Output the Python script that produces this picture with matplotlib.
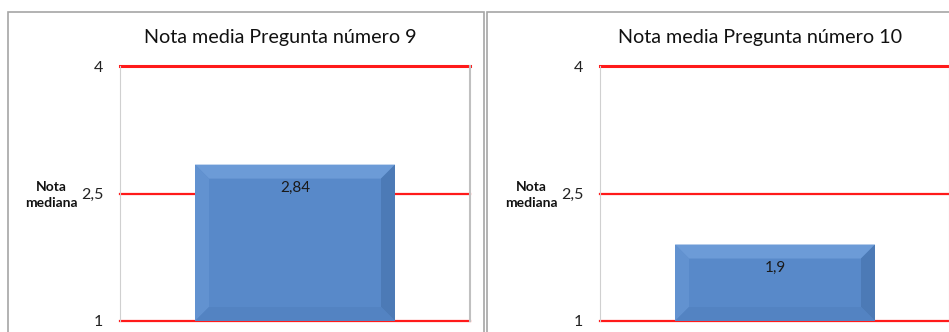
import matplotlib
matplotlib.use("Agg")
import matplotlib.pyplot as plt
from matplotlib.patches import Polygon, Rectangle

# data
titles = ["Nota media Pregunta número 9", "Nota media Pregunta número 10"]
values = [2.84, 1.9]
value_labels = ["2,84", "1,9"]
yticks = [1, 2.5, 4]
ytick_labels = ["1", "2,5", "4"]
ylabel = "Nota\nmediana"

W, H = 949, 332
FONT = ["Lato", "DejaVu Sans"]
BLUE = "#5889C9"

fig = plt.figure(figsize=(W / 100, H / 100), dpi=100)

# panel frames (pixel coords -> figure fractions)
for x0, x1 in [(8, 484), (487, 960)]:
    fig.patches.append(Rectangle((x0 / W, -0.1), (x1 - x0) / W, (H - 12) / H + 0.1,
                                 transform=fig.transFigure, fill=False,
                                 edgecolor="#a6a6a6", lw=1.2))


def bevel(ax, bar, px=14):
    # bevel faces built from the bar rectangle, sized in pixels
    x0, y0 = ax.transData.transform((bar.get_x(), bar.get_y()))
    x1, y1 = ax.transData.transform((bar.get_x() + bar.get_width(), bar.get_y() + bar.get_height()))
    b = min(px, (y1 - y0) / 2)
    inv = ax.transData.inverted()
    faces = [
        ([(x0, y1), (x1, y1), (x1 - b, y1 - b), (x0 + b, y1 - b)], "#6C9BD7"),  # top
        ([(x0, y0), (x0, y1), (x0 + b, y1 - b), (x0 + b, y0 + b)], "#6292D0"),  # left
        ([(x1, y0), (x1, y1), (x1 - b, y1 - b), (x1 - b, y0 + b)], "#4C7AB6"),  # right
        ([(x0, y0), (x1, y0), (x1 - b, y0 + b), (x0 + b, y0 + b)], "#5383C2"),  # bottom
    ]
    for pts, c in faces:
        ax.add_patch(Polygon(inv.transform(pts), closed=True, facecolor=c,
                             edgecolor="none", zorder=3))


for i, (title, v, lab) in enumerate(zip(titles, values, value_labels)):
    off = 480 * i
    ax = fig.add_axes([(120 + off) / W, (H - 321) / H, 350 / W, 255 / H])
    ax.set_xlim(-0.875, 0.875)
    ax.set_ylim(1, 4)
    for s in ["top", "bottom"]:
        ax.spines[s].set_visible(False)
    ax.spines["left"].set_color("#d0d0d0")
    ax.spines["right"].set_color("#c0c0c0")
    ax.spines["right"].set_linewidth(1.5)
    for y in yticks:
        ax.axhline(y, color="#ff1a1a", lw=1.6 if y != 4 else 2.2, zorder=1, clip_on=False)
    bars = ax.bar([0], [v - 1], bottom=1, width=1.0, color=BLUE, zorder=2)
    fig.canvas.draw()
    bevel(ax, bars[0])
    ax.annotate(lab, (0, v), xytext=(0, -17), textcoords="offset points",
                ha="center", va="center", fontsize=11, family=FONT, color="#1a1a1a", zorder=5)
    ax.set_xticks([])
    ax.set_yticks(yticks)
    ax.set_yticklabels(ytick_labels, family=FONT, fontsize=11.5, color="#222222")
    ax.tick_params(axis="y", length=0, pad=12)
    fig.text((280 + off) / W, (H - 37) / H, title, ha="center", va="center",
             fontsize=14.2, family=FONT, color="#111111")
    fig.text((51 + off) / W, (H - 195) / H, ylabel, ha="center", va="center",
             fontsize=10, fontweight="bold", family=FONT, linespacing=1.4, color="#111111")

fig.savefig("out.png", dpi=100)
